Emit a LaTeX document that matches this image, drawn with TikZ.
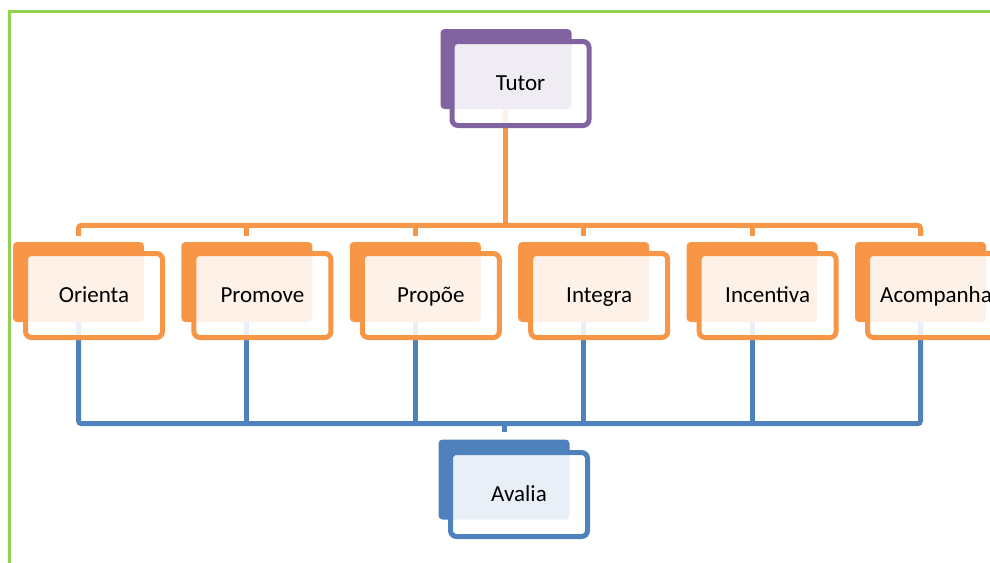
\documentclass[tikz,border=0pt]{standalone}
\usepackage{fontspec}
\setmainfont{Carlito}
\usetikzlibrary{positioning,backgrounds}
\definecolor{tutorpurple}{HTML}{8064A2}
\definecolor{kidorange}{HTML}{F79646}
\definecolor{evalblue}{HTML}{4F81BD}
\definecolor{framegreen}{HTML}{92D050}
\tikzset{
  %back plate of each box
  plate/.style={
    rectangle,
    rounded corners=4pt,
    fill=#1,
    minimum width=131pt,
    minimum height=80pt,
    inner sep=0pt},
  %front card carrying the text
  card/.style={
    rectangle,
    rounded corners=6pt,
    draw=#1, line width=5pt,
    fill=white, fill opacity=0.88, text opacity=1,
    minimum width=137pt,
    minimum height=84pt,
    text height=14.5pt, text depth=0pt,
    font=\fontsize{23}{27}\selectfont},
  %define style for connectors
  link/.style={
    draw=#1,
    rounded corners=3pt,
    line width=5pt}
}
\begin{document}
\begin{tikzpicture}[x=1pt,y=1pt]
\useasboundingbox (0,0) rectangle (990,-562);
\clip (0,0) rectangle (990,-562);
%frame
\draw[framegreen, line width=3pt] (9.5,-600) |- (1000,-11);

%plates
\node[plate=tutorpurple] (tutorb) at (506,-69) {};
\node[plate=kidorange] (orib) at (78.5,-282) {};
\node[plate=kidorange, right=37pt of orib] (prob) {};
\node[plate=kidorange, right=37pt of prob] (propb) {};
\node[plate=kidorange, right=37pt of propb] (intb) {};
\node[plate=kidorange, right=37pt of intb] (incb) {};
\node[plate=kidorange, right=37pt of incb] (acob) {};
\node[plate=evalblue] (avab) at (504,-479.5) {};

%cards
\node[card=tutorpurple, xshift=14.5pt, yshift=-14.5pt] (tutor) at (tutorb) {Tutor};
\node[card=kidorange, xshift=15.5pt, yshift=-13.5pt] (ori) at (orib) {Orienta};
\node[card=kidorange, xshift=15.5pt, yshift=-13.5pt] (pro) at (prob) {Promove};
\node[card=kidorange, xshift=15.5pt, yshift=-13.5pt] (prop) at (propb) {Propõe};
\node[card=kidorange, xshift=15.5pt, yshift=-13.5pt] (int) at (intb) {Integra};
\node[card=kidorange, xshift=15.5pt, yshift=-13.5pt] (inc) at (incb) {Incentiva};
\node[card=kidorange, xshift=15.5pt, yshift=-13.5pt] (aco) at (acob) {Acompanha};
\node[card=evalblue, xshift=15pt, yshift=-15pt] (ava) at (avab) {Avalia};

%connectors
\coordinate (topbar) at ([yshift=16.5pt]orib.north);
\coordinate (lowbar) at ([yshift=-101.5pt]orib.south);
\begin{scope}[on background layer]
\draw[link=kidorange] ([yshift=6pt]orib.north) |- (acob.north |- topbar) -- ([yshift=6pt]acob.north);
\draw[link=kidorange] ([yshift=6pt]prob.north) -- (prob.north |- topbar);
\draw[link=kidorange] ([yshift=6pt]propb.north) -- (propb.north |- topbar);
\draw[link=kidorange] ([yshift=6pt]intb.north) -- (intb.north |- topbar);
\draw[link=kidorange] ([yshift=6pt]incb.north) -- (incb.north |- topbar);
\draw[link=kidorange] ([xshift=-1pt]tutorb.south) -- ([xshift=-1pt]tutorb.south |- topbar);

\draw[link=evalblue] (orib.south) |- (acob.south |- lowbar) -- (acob.south);
\draw[link=evalblue] (prob.south) -- (prob.south |- lowbar);
\draw[link=evalblue] (propb.south) -- (propb.south |- lowbar);
\draw[link=evalblue] (intb.south) -- (intb.south |- lowbar);
\draw[link=evalblue] (incb.south) -- (incb.south |- lowbar);
\draw[link=evalblue] (avab.north |- lowbar) -- ([yshift=7pt]avab.north);
\end{scope}
\end{tikzpicture}
\end{document}
